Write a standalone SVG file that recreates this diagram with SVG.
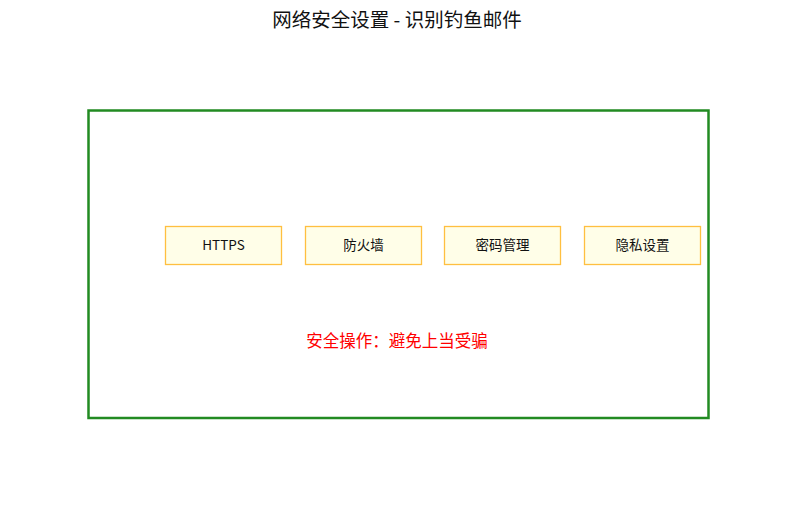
<svg xmlns="http://www.w3.org/2000/svg" width="794" height="505" viewBox="0 0 794 505">
<style>
text{font-family:"Noto Sans CJK SC","Noto Sans",sans-serif;text-anchor:middle;dominant-baseline:central}
.box{fill:#fffee8;stroke:#ffbf40;stroke-width:1.3}
.lbl{font-size:13.5px;fill:#111}
</style>
<rect width="794" height="505" fill="#fff"/>
<text x="397" y="18" font-size="19.5" fill="#111">网络安全设置 - 识别钓鱼邮件</text>
<g id="container">
<rect x="88.5" y="110.5" width="620" height="307.5" fill="none" stroke="#228b22" stroke-width="2.5"/>
</g>
<g id="connectors"></g>
<g id="n1"><rect class="box" x="165.5" y="226.5" width="116" height="38"/><text class="lbl" x="223.5" y="243.5">HTTPS</text></g>
<g id="n2"><rect class="box" x="305.5" y="226.5" width="116" height="38"/><text class="lbl" x="363.5" y="243.5">防火墙</text></g>
<g id="n3"><rect class="box" x="444.5" y="226.5" width="116" height="38"/><text class="lbl" x="502.5" y="243.5">密码管理</text></g>
<g id="n4"><rect class="box" x="584.5" y="226.5" width="116" height="38"/><text class="lbl" x="642.5" y="243.5">隐私设置</text></g>
<text x="397" y="340" font-size="16.5" fill="#ff0000">安全操作：避免上当受骗</text>
</svg>
